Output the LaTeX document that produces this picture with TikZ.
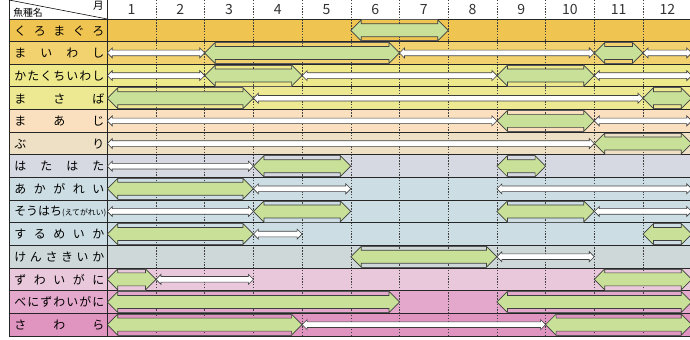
\documentclass[tikz,border=0pt]{standalone}
\usepackage{fontspec}
\setmainfont{Noto Sans CJK JP}
\definecolor{peakgreen}{RGB}{200,224,152}
\definecolor{rowA}{RGB}{240,196,80}
\definecolor{rowB}{RGB}{242,210,110}
\definecolor{rowC}{RGB}{238,234,140}
\definecolor{rowD}{RGB}{236,233,146}
\definecolor{rowE}{RGB}{250,224,190}
\definecolor{rowF}{RGB}{238,224,196}
\definecolor{rowG}{RGB}{214,216,226}
\definecolor{rowH}{RGB}{204,222,228}
\definecolor{rowI}{RGB}{206,216,216}
\definecolor{rowJ}{RGB}{234,200,220}
\definecolor{rowK}{RGB}{228,168,204}
\definecolor{rowL}{RGB}{224,148,192}
\tikzset{
  gridline/.style={draw=black!85, line width=0.6pt},
  monthsep/.style={draw=black!75, line width=0.4pt, dash pattern=on 1pt off 1pt},
  peak/.style={fill=peakgreen, draw=black!75, line width=0.5pt, line join=miter},
  peakrim/.style={draw=black!65, line width=0.5pt},
  season/.style={fill=white, draw=black!75, line width=0.45pt, line join=miter},
  fishname/.style={anchor=west, inner sep=0pt, text width=2.25cm, font=\fontsize{8.5}{10}\selectfont},
  monthno/.style={inner sep=0pt, font=\fontsize{10}{11}\selectfont, text=black!80}
}
\begin{document}
\begin{tikzpicture}[x=0.025cm, y=-0.025cm]
\useasboundingbox (0,0) rectangle (690,340);

\foreach \lab/\col [count=\r] in {
  {く\hfill ろ\hfill ま\hfill ぐ\hfill ろ}/rowA,
  {ま\hfill い\hfill わ\hfill し}/rowB,
  {か\hfill た\hfill く\hfill ち\hfill い\hfill わ\hfill し}/rowC,
  {ま\hfill さ\hfill ば}/rowD,
  {ま\hfill あ\hfill じ}/rowE,
  {ぶ\hfill り}/rowF,
  {は\hfill た\hfill は\hfill た}/rowG,
  {あ\hfill か\hfill が\hfill れ\hfill い}/rowH,
  {そうはち{\fontsize{5.6}{6}\selectfont(えてがれい)}}/rowH,
  {す\hfill る\hfill め\hfill い\hfill か}/rowH,
  {け\hfill ん\hfill さ\hfill き\hfill い\hfill か}/rowI,
  {ず\hfill わ\hfill い\hfill が\hfill に}/rowJ,
  {べ\hfill に\hfill ず\hfill わ\hfill い\hfill が\hfill に}/rowK,
  {さ\hfill わ\hfill ら}/rowL}{
  \pgfmathsetmacro\yt{19+22.64*(\r-1)}
  \fill[\col] (9,\yt) rectangle (690,\yt+22.64);
  \node[fishname] (fish\r) at (14,\yt+11.6) {\lab};
}

\foreach \k in {1,...,11}
  \draw[monthsep] (107.3+48.7*\k,0) -- (107.3+48.7*\k,336);
\foreach \k in {1,...,12}
  \node[monthno] (month\k) at (107.3+48.7*\k-24.35,9.5) {\k};

\foreach \r in {0,...,14}
  \draw[gridline] (9,19+22.64*\r) -- (690,19+22.64*\r);
\draw[gridline] (9,0) -- (9,336);
\draw[gridline] (107.3,0) -- (107.3,336);
\draw[line width=0.4pt] (9,0) -- (107.3,19);
\node[anchor=west, inner sep=0pt, font=\fontsize{7}{8}\selectfont] (kind) at (13,13) {魚種名};
\node[anchor=east, inner sep=0pt, font=\fontsize{7.5}{8}\selectfont] (tsuki) at (104,5.5) {月};

\foreach \r/\a/\b in {1/5/7, 2/2/6, 2/10/11, 3/2/4, 3/8/10, 4/0/3, 4/11/12,
    5/8/10, 6/10/12, 7/3/5, 7/8/9, 8/0/3, 9/3/5, 9/8/10, 10/0/3, 10/11/12,
    11/5/8, 12/0/1, 12/10/12, 13/0/6, 13/8/12, 14/0/4, 14/9/12}{
  \pgfmathsetmacro\ya{19+22.64*(\r-0.5)}
  \pgfmathsetmacro\xa{107.3+48.7*\a}
  \pgfmathsetmacro\xb{107.3+48.7*\b}
  \draw[peak] (\xa,\ya) -- (\xa+10.5,\ya-10.5) -- (\xa+10.5,\ya-6.5) -- (\xb-10.5,\ya-6.5)
    -- (\xb-10.5,\ya-10.5) -- (\xb,\ya) -- (\xb-10.5,\ya+10.5) -- (\xb-10.5,\ya+6.5)
    -- (\xa+10.5,\ya+6.5) -- (\xa+10.5,\ya+10.5) -- cycle;
  \draw[peakrim] (\xa+10.5,\ya-10.5) -- (\xb-10.5,\ya-10.5)
    (\xa+10.5,\ya+10.5) -- (\xb-10.5,\ya+10.5);
}

\foreach \r/\a/\b in {2/0/2, 2/6/10, 2/11/12, 3/0/2, 3/4/8, 3/10/12, 4/3/11,
    5/0/8, 5/10/12, 6/0/10, 7/0/3, 8/3/5, 8/8/12, 9/0/3, 9/10/12, 10/3/4,
    11/8/10, 12/1/3, 14/4/9}{
  \pgfmathsetmacro\ya{19+22.64*(\r-0.5)}
  \pgfmathsetmacro\xa{107.3+48.7*\a}
  \pgfmathsetmacro\xb{107.3+48.7*\b}
  \draw[season] (\xa,\ya) -- (\xa+5,\ya-5) -- (\xa+5,\ya-2.8) -- (\xb-5,\ya-2.8)
    -- (\xb-5,\ya-5) -- (\xb,\ya) -- (\xb-5,\ya+5) -- (\xb-5,\ya+2.8)
    -- (\xa+5,\ya+2.8) -- (\xa+5,\ya+5) -- cycle;
}
\end{tikzpicture}
\end{document}
